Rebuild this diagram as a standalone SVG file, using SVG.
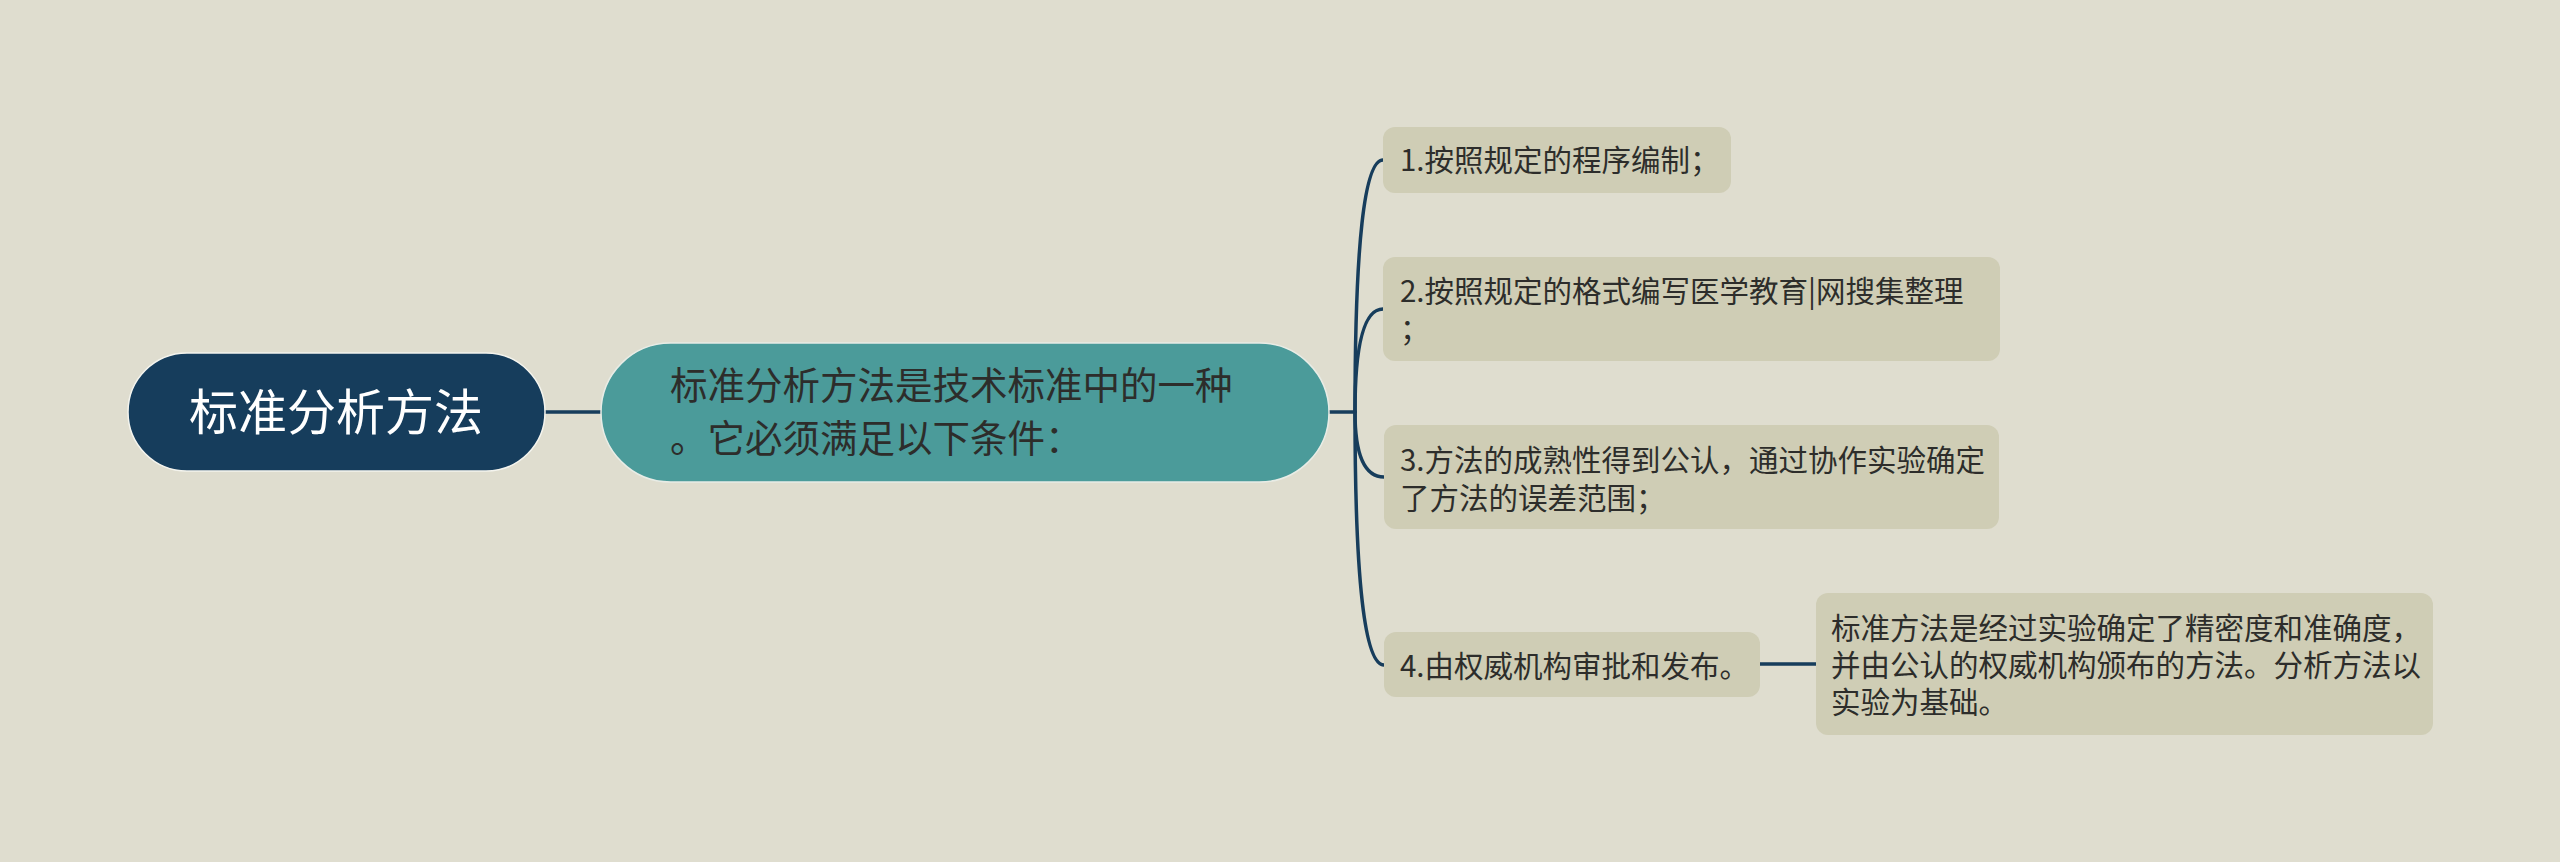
<svg xmlns="http://www.w3.org/2000/svg" width="2560" height="862" viewBox="0 0 2560 862">
<style>
.t{font-family:"Noto Sans CJK SC","Noto Sans",sans-serif;fill:#2d2d2b}
.c{fill:none;stroke:#173d5c;stroke-width:3.5;stroke-linecap:round}
.box{fill:#cfcdb5}
</style>
<rect width="2560" height="862" fill="#dfddcf"/>
<g id="connectors">
<path class="c" d="M545,412 L601,412"/>
<path class="c" d="M1329,412 L1355,412"/>
<path class="c" d="M1355,412 Q1355,160 1383,160"/>
<path class="c" d="M1355,412 Q1355,309 1383,309"/>
<path class="c" d="M1355,412 Q1355,477 1384,477"/>
<path class="c" d="M1355,412 Q1355,665 1384,665"/>
<path class="c" d="M1760,664 L1816,664"/>
</g>
<g id="root">
<rect x="128" y="353" width="417" height="118" rx="59" fill="#163d5c" stroke="#f4f4ee" stroke-width="1.5"/>
<text class="t" x="336" y="430" font-size="49" text-anchor="middle" style="fill:#ffffff">标准分析方法</text>
</g>
<g id="main">
<rect x="601" y="343" width="728" height="139" rx="69.5" fill="#4b9b9a" stroke="#e8ece6" stroke-width="1.5"/>
<text class="t" font-size="37.5"><tspan x="670" y="399">标准分析方法是技术标准中的一种</tspan><tspan x="670" y="452">。它必须满足以下条件：</tspan></text>
</g>
<g id="n1">
<rect class="box" x="1383" y="127" width="348" height="66" rx="12"/>
<text class="t" x="1400" y="171" font-size="29.5">1.按照规定的程序编制；</text>
</g>
<g id="n2">
<rect class="box" x="1383" y="257" width="617" height="104" rx="12"/>
<text class="t" font-size="29.5"><tspan x="1400" y="302">2.按照规定的格式编写医学教育|网搜集整理</tspan><tspan x="1400" y="340">；</tspan></text>
</g>
<g id="n3">
<rect class="box" x="1384" y="425" width="615" height="104" rx="12"/>
<text class="t" font-size="29.5"><tspan x="1400" y="471">3.方法的成熟性得到公认，通过协作实验确定</tspan><tspan x="1400" y="509">了方法的误差范围；</tspan></text>
</g>
<g id="n4">
<rect class="box" x="1384" y="632" width="376" height="65" rx="12"/>
<text class="t" x="1400" y="677" font-size="29.5">4.由权威机构审批和发布。</text>
</g>
<g id="n5">
<rect class="box" x="1816" y="593" width="617" height="142" rx="12"/>
<text class="t" font-size="29.5"><tspan x="1831" y="639">标准方法是经过实验确定了精密度和准确度，</tspan><tspan x="1831" y="676">并由公认的权威机构颁布的方法。分析方法以</tspan><tspan x="1831" y="713">实验为基础。</tspan></text>
</g>
</svg>
